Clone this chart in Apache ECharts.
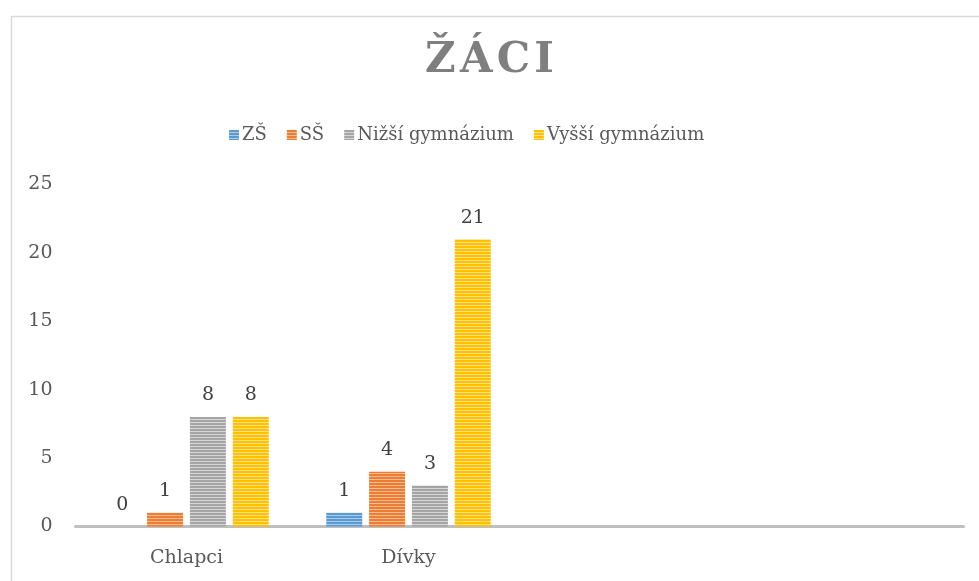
<!DOCTYPE html>
<html>
<head>
<meta charset="utf-8">
<script src="https://cdn.jsdelivr.net/npm/echarts@6/dist/echarts.min.js"></script>
<style>html,body{margin:0;padding:0;background:#fff}#c{width:979px;height:581px}</style>
</head>
<body>
<div id="c"></div>
<script>
const categories = ['Chlapci', 'Dívky', '', ''];
const seriesNames = ['ZŠ', 'SŠ', 'Nižší gymnázium', 'Vyšší gymnázium'];
const zs = [0, 1, null, null];
const ss = [1, 4, null, null];
const nizsi = [8, 3, null, null];
const vyssi = [8, 21, null, null];
const yTicks = [0, 5, 10, 15, 20, 25];

const baseColors = ['#5b9bd5', '#ed7d31', '#a5a5a5', '#ffc000'];
const lightColors = ['#a9cbe9', '#f6bb95', '#d6d6d6', '#ffe08a'];

function stripe(base, light) {
  const c = document.createElement('canvas');
  c.width = 4; c.height = 3;
  const g = c.getContext('2d');
  g.fillStyle = base; g.fillRect(0, 0, 4, 3);
  g.fillStyle = light; g.fillRect(0, 2, 4, 1);
  return { image: c, repeat: 'repeat' };
}

const values = [zs, ss, nizsi, vyssi];
const font = 'DejaVu Serif';

const chart = echarts.init(document.getElementById('c'), null, { renderer: 'canvas' });
chart.setOption({
  animation: false,
  backgroundColor: '#fff',
  graphic: [{
    type: 'rect', left: 9, top: 14, silent: true,
    shape: { width: 1000, height: 600 },
    style: { fill: 'none', stroke: '#d9d9d9', lineWidth: 1.5 }
  }],
  title: {
    text: 'Ž\u200AÁ\u200AC\u200AI',
    left: 'center', top: 35,
    textStyle: { fontFamily: font, fontSize: 42, fontWeight: 'bold', color: '#7f7f7f' }
  },
  legend: {
    top: 121, left: 224,
    itemWidth: 10, itemHeight: 10, itemGap: 20,
    icon: 'rect',
    textStyle: { fontFamily: font, fontSize: 18, color: '#595959', padding: [0, 0, 0, -2] },
    data: seriesNames
  },
  grid: { left: 75.5, right: 15.5, top: 184.5, bottom: 54.5, containLabel: false },
  xAxis: {
    type: 'category', data: categories,
    axisLine: { lineStyle: { color: '#bfbfbf', width: 3 } },
    axisTick: { show: false },
    axisLabel: { fontFamily: font, fontSize: 19, color: '#595959', margin: 22 }
  },
  yAxis: {
    type: 'value', min: yTicks[0], max: yTicks[yTicks.length - 1], interval: 5,
    axisLine: { show: false }, axisTick: { show: false },
    splitLine: { show: false },
    axisLabel: { fontFamily: font, fontSize: 19, color: '#595959', margin: 23 }
  },
  series: values.map((v, i) => ({
    name: seriesNames[i], type: 'bar', data: v,
    barWidth: 36, barGap: '19%',
    itemStyle: { color: stripe(baseColors[i], lightColors[i]) },
    label: { show: true, position: 'top', distance: 12, fontFamily: font, fontSize: 19, color: '#404040' }
  }))
});
</script>
</body>
</html>
